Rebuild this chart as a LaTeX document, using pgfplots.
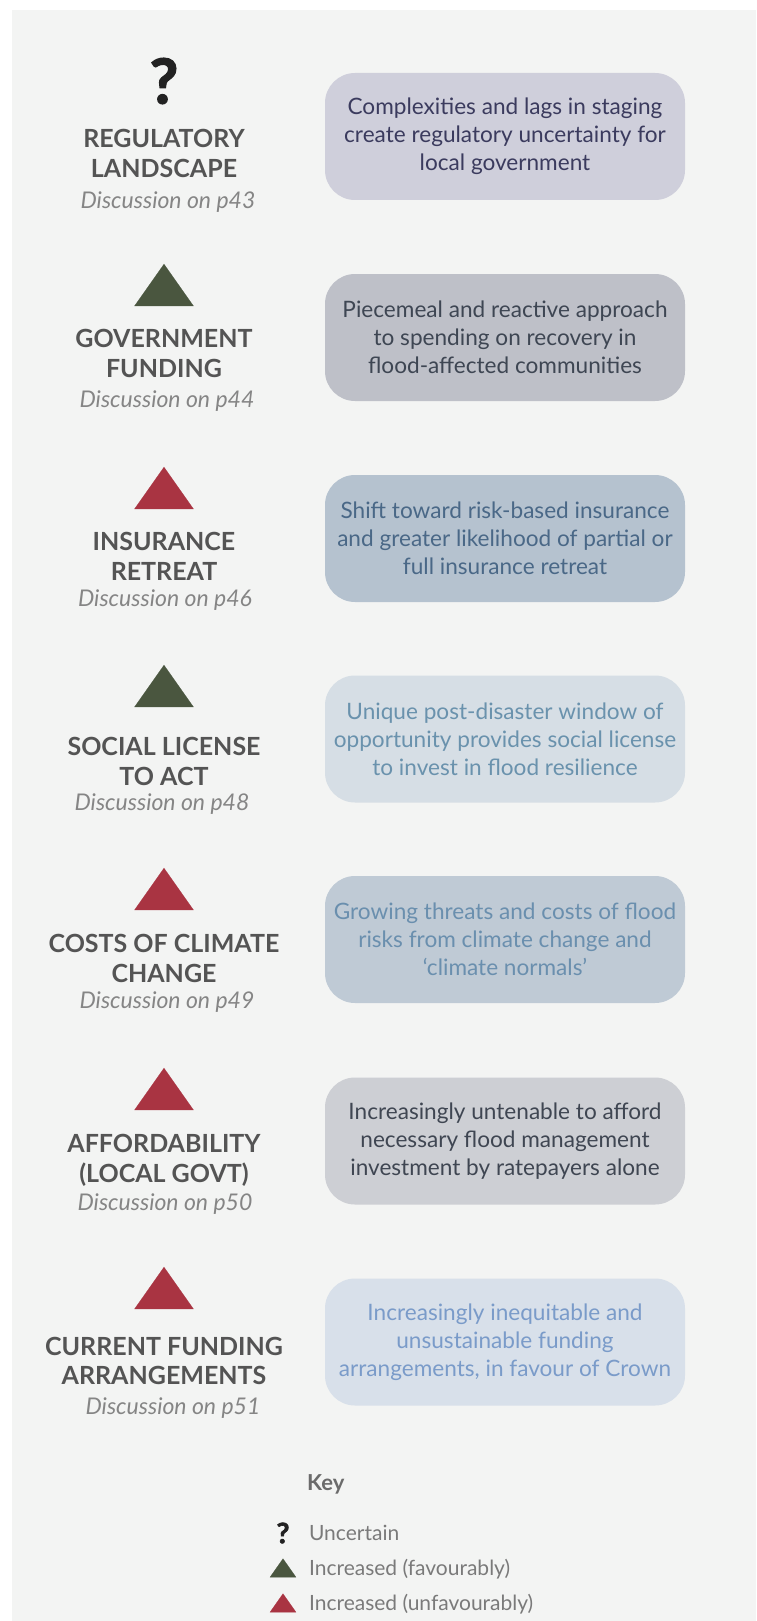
\documentclass[border=0pt]{standalone}
\usepackage{pgfplots}
\pgfplotsset{compat=1.18}
\usepackage{fontspec}
\setmainfont{Lato}
\newfontfamily\qfont{Lato}[FakeBold=2.2]
\definecolor{panel}{HTML}{F3F4F3}
\definecolor{favgreen}{HTML}{4A563F}
\definecolor{unfavred}{HTML}{A93442}
\definecolor{titlegray}{HTML}{545454}
\definecolor{discgray}{HTML}{858585}
\definecolor{qmark}{HTML}{222222}
\definecolor{bA}{HTML}{CFCFDB}\definecolor{tA}{HTML}{3B3B5E}
\definecolor{bB}{HTML}{BEC0C8}\definecolor{tB}{HTML}{3E4653}
\definecolor{bC}{HTML}{B5C2CF}\definecolor{tC}{HTML}{4A6887}
\definecolor{bD}{HTML}{D6DEE5}\definecolor{tD}{HTML}{6A92AD}
\definecolor{bE}{HTML}{BFCAD5}\definecolor{tE}{HTML}{6A8FAE}
\definecolor{bF}{HTML}{CDCFD4}\definecolor{tF}{HTML}{3F4652}
\definecolor{bG}{HTML}{D8E0EA}\definecolor{tG}{HTML}{7A9BC9}
\definecolor{keygray}{HTML}{6B6B6B}
\definecolor{labgray}{HTML}{7A7A7A}
\tikzset{
  box/.style={rounded corners=15pt, minimum width=180pt, minimum height=63.5pt,
    align=center, inner sep=0pt, font=\fontsize{11.3}{14}\selectfont},
  ttl/.style={anchor=base, text=titlegray, font=\fontsize{12.5}{15}\selectfont\bfseries},
  disc/.style={anchor=base, text=discgray, font=\fontsize{11.5}{13}\selectfont\itshape},
  lab/.style={anchor=base west, text=labgray, font=\fontsize{10.5}{13}\selectfont},
}
\begin{document}
\begin{tikzpicture}
\begin{axis}[
  scale only axis, width=378pt, height=810.5pt,
  xmin=0, xmax=756, ymin=0, ymax=1621, y dir=reverse,
  hide axis, clip=false,
]
\fill[white] (axis cs:0,0) rectangle (axis cs:756,1621);
\fill[panel] (axis cs:12,10) rectangle (axis cs:756,1621);

% status markers
\addplot[only marks, mark=text, text mark={\textcolor{qmark}{\qfont\fontsize{31}{31}\selectfont\bfseries ?}}] coordinates {(164,81)};
\addplot[only marks, color=favgreen, mark=triangle*, mark size=17pt,
  mark options={yscale=0.82, fill=favgreen, draw=favgreen, line width=0.1pt}] coordinates {(164,292) (164,693)};
\addplot[only marks, color=unfavred, mark=triangle*, mark size=17pt,
  mark options={yscale=0.82, fill=unfavred, draw=unfavred, line width=0.1pt}] coordinates {(164,495) (164,896) (164,1096) (164,1295)};

% key markers
\addplot[only marks, mark=text, text mark={\textcolor{qmark}{\qfont\fontsize{14}{14}\selectfont\bfseries ?}}] coordinates {(283,1533)};
\addplot[only marks, color=favgreen, mark=triangle*, mark size=7.5pt,
  mark options={yscale=0.82, fill=favgreen, draw=favgreen, line width=0.1pt}] coordinates {(283,1571)};
\addplot[only marks, color=unfavred, mark=triangle*, mark size=7.5pt,
  mark options={yscale=0.82, fill=unfavred, draw=unfavred, line width=0.1pt}] coordinates {(283,1606)};

% boxes
\node[box, fill=bA, text=tA] at (axis cs:505,136.5) {Complexities and lags in staging\\create regulatory uncertainty for\\local government};
\node[box, fill=bB, text=tB] at (axis cs:505,337.5) {Piecemeal and reactive approach\\to spending on recovery in\\flood-affected communities};
\node[box, fill=bC, text=tC] at (axis cs:505,538.5) {Shift toward risk-based insurance\\and greater likelihood of partial or\\full insurance retreat};
\node[box, fill=bD, text=tD] at (axis cs:505,739) {Unique post-disaster window of\\opportunity provides social license\\to invest in flood resilience};
\node[box, fill=bE, text=tE] at (axis cs:505,939.5) {Growing threats and costs of flood\\risks from climate change and\\‘climate normals’};
\node[box, fill=bF, text=tF] at (axis cs:505,1141) {Increasingly untenable to afford\\necessary flood management\\investment by ratepayers alone};
\node[box, fill=bG, text=tG] at (axis cs:505,1342) {Increasingly inequitable and\\unsustainable funding\\arrangements, in favour of Crown};

% titles
\node[ttl] at (axis cs:164,148) {REGULATORY};
\node[ttl] at (axis cs:164,178) {LANDSCAPE};
\node[disc] at (axis cs:168,209) {Discussion on p43};
\node[ttl] at (axis cs:164,347) {GOVERNMENT};
\node[ttl] at (axis cs:164,377) {FUNDING};
\node[disc] at (axis cs:167,407) {Discussion on p44};
\node[ttl] at (axis cs:164,550) {INSURANCE};
\node[ttl] at (axis cs:164,580) {RETREAT};
\node[disc] at (axis cs:165,606) {Discussion on p46};
\node[ttl] at (axis cs:164,755) {SOCIAL LICENSE};
\node[ttl] at (axis cs:164,785) {TO ACT};
\node[disc] at (axis cs:162,810) {Discussion on p48};
\node[ttl] at (axis cs:164,952) {COSTS OF CLIMATE};
\node[ttl] at (axis cs:164,982) {CHANGE};
\node[disc] at (axis cs:167,1008) {Discussion on p49};
\node[ttl] at (axis cs:164,1152) {AFFORDABILITY};
\node[ttl] at (axis cs:164,1182) {(LOCAL GOVT)};
\node[disc] at (axis cs:165,1210) {Discussion on p50};
\node[ttl] at (axis cs:164,1355) {CURRENT FUNDING};
\node[ttl] at (axis cs:164,1384) {ARRANGEMENTS};
\node[disc] at (axis cs:173,1414) {Discussion on p51};

% key
\node[anchor=base west, text=keygray, font=\fontsize{11}{13}\selectfont\bfseries] at (axis cs:300,1490) {Key};
\node[lab] at (axis cs:302,1540) {Uncertain};
\node[lab] at (axis cs:302,1575) {Increased (favourably)};
\node[lab] at (axis cs:302,1610) {Increased (unfavourably)};
\end{axis}
\end{tikzpicture}
\end{document}
